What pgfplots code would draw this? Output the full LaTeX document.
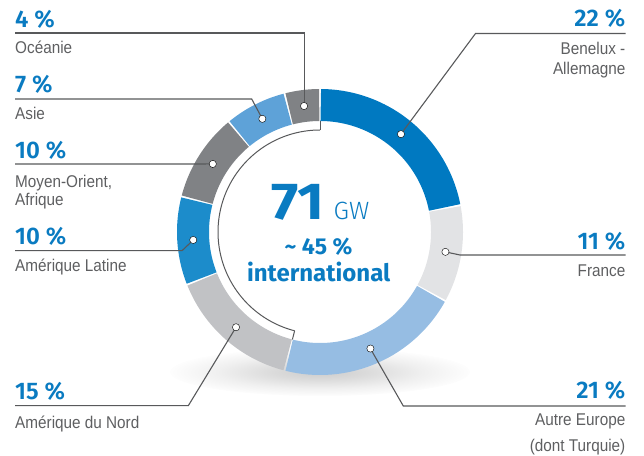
\documentclass[border=0pt]{standalone}
\usepackage{pgfplots}
\pgfplotsset{compat=1.18}
\usepackage{pgfplotstable}
\usepackage{fontspec}
\setmainfont{Liberation Sans}
\newfontfamily\labelfont{Liberation Sans}[FakeStretch=0.9]
\newfontfamily\numfont{Fira Sans}[UprightFont={* SemiBold}, BoldFont={* Bold}]
\newfontfamily\bignumfont{Fira Sans}[UprightFont={* Bold}]
\newfontfamily\hugefont{Fira Sans}[UprightFont={* Bold}, FakeStretch=1.12]
\newfontfamily\lightfont{Fira Sans}[UprightFont={* Light}]

\definecolor{seg0}{HTML}{0079C1}
\definecolor{seg1}{HTML}{E2E3E5}
\definecolor{seg2}{HTML}{96BDE3}
\definecolor{seg3}{HTML}{C1C2C5}
\definecolor{seg4}{HTML}{1C8CCB}
\definecolor{seg5}{HTML}{808285}
\definecolor{seg6}{HTML}{5EA2D8}
\definecolor{seg7}{HTML}{808285}
\definecolor{pctblue}{HTML}{0A7BC1}
\definecolor{labgray}{HTML}{5E5F61}
\definecolor{linegray}{HTML}{58595B}

\pgfdeclareradialshading{shadow}{\pgfpoint{0bp}{0bp}}{color(0bp)=(black!20); color(8bp)=(black!14); color(17bp)=(black!6); color(26bp)=(white); color(50bp)=(white)}

% share of capacity (%), clockwise from 12 o'clock
\pgfplotstableread{
region value
Benelux 22
France 11
AutreEurope 21
AmeriqueNord 15
AmeriqueLatine 10
MoyenOrient 10
Asie 7
Oceanie 4
}\shares
\pgfplotstablecreatecol[create col/expr accum={\pgfmathaccuma + \thisrow{value}}{0}]{cum}\shares
\pgfplotstablecreatecol[create col/expr={(\thisrow{cum}-\thisrow{value}/2)*3.6}]{mid}\shares

\newcommand{\pct}[1]{\numfont\fontsize{24bp}{24bp}\selectfont #1}
\newcommand{\lab}{\labelfont\fontsize{17bp}{17bp}\selectfont}

\begin{document}
\begin{tikzpicture}
\begin{axis}[name=ax, scale only axis, width=644bp, height=456bp,
  xmin=0, xmax=644, ymin=0, ymax=456, hide axis, clip=false]
\coordinate (ll) at (rel axis cs:0,0);
\coordinate (ur) at (rel axis cs:1,1);

% shadow under the ring
\shade[shading=shadow] (axis cs:320,84) ellipse [x radius=150bp, y radius=24bp];

% ring segments
\pgfplotsinvokeforeach{0,...,7}{%
  \pgfplotstablegetelem{#1}{cum}\of\shares
  \pgfmathsetmacro\segB{\pgfplotsretval*3.6-0.35}%
  \pgfplotstablegetelem{#1}{value}\of\shares
  \pgfmathsetmacro\segA{\segB+0.7-\pgfplotsretval*3.6}%
  \edef\doplot{\noexpand\addplot[draw=seg#1, line width=32bp, domain=\segA:\segB, samples=60, no markers, forget plot] ({320+127*sin(x)},{224+127*cos(x)});}%
  \doplot
}

% thin arc marking the international share
\pgfplotstablegetelem{2}{cum}\of\shares
\pgfmathsetmacro\intA{\pgfplotsretval*3.6}
\edef\doplot{\noexpand\addplot[draw=linegray, line width=1bp, domain=\intA:360, samples=120, forget plot] ({320+102*sin(x)},{224+102*cos(x)});}\doplot
\edef\doplot{\noexpand\addplot[draw=linegray, line width=1bp, domain=102:111, samples=2, forget plot] ({320+x*sin(\intA)},{224+x*cos(\intA)});}\doplot
\addplot[draw=linegray, line width=1bp, forget plot] coordinates {(320,326) (320,335)};

% callout lines
\addplot[draw=linegray, line width=1.1bp] coordinates {(625.5,422.5) (475.5,422.5) (400.9,321.9)};
\addplot[draw=linegray, line width=1.1bp] coordinates {(625.5,201) (460,201) (445.4,204.1)};
\addplot[draw=linegray, line width=1.1bp] coordinates {(625.5,50) (403.3,50) (370.4,107.4)};
\addplot[draw=linegray, line width=1.1bp] coordinates {(15,50.3) (188.3,50.3) (236.0,128.7)};
\addplot[draw=linegray, line width=1.1bp] coordinates {(15,205.3) (182,205.3) (193.3,216)};
\addplot[draw=linegray, line width=1.1bp] coordinates {(15,292) (200,292) (212.8,292.1)};
\addplot[draw=linegray, line width=1.1bp] coordinates {(15,357) (251.7,357) (262.3,337.2)};
\addplot[draw=linegray, line width=1.1bp] coordinates {(15,423) (304.1,423) (304.1,350)};

% white dots
\addplot[only marks, mark=*, mark size=3.6bp, mark options={fill=white, draw=none}, forget plot]
  table[x expr={320+127*sin(\thisrow{mid})}, y expr={224+127*cos(\thisrow{mid})}]{\shares};

% left labels
\node[anchor=base west, inner sep=0, text=pctblue] at (axis cs:15,428.7) {\pct{4 \%}};
\node[anchor=base west, inner sep=0, text=labgray] at (axis cs:15,402) {\lab Océanie};
\node[anchor=base west, inner sep=0, text=pctblue] at (axis cs:15,363.7) {\pct{7 \%}};
\node[anchor=base west, inner sep=0, text=labgray] at (axis cs:15,336.5) {\lab Asie};
\node[anchor=base west, inner sep=0, text=pctblue] at (axis cs:15,297.7) {\pct{10 \%}};
\node[anchor=base west, inner sep=0, text=labgray] at (axis cs:15,268.5) {\lab Moyen-Orient,};
\node[anchor=base west, inner sep=0, text=labgray] at (axis cs:15,250) {\lab Afrique};
\node[anchor=base west, inner sep=0, text=pctblue] at (axis cs:15,211) {\pct{10 \%}};
\node[anchor=base west, inner sep=0, text=labgray] at (axis cs:15,184.5) {\lab Amérique Latine};
\node[anchor=base west, inner sep=0, text=pctblue] at (axis cs:15,56) {\pct{15 \%}};
\node[anchor=base west, inner sep=0, text=labgray] at (axis cs:15,28) {\lab Amérique du Nord};

% right labels
\node[anchor=base east, inner sep=0, text=pctblue] at (axis cs:625.5,429.3) {\pct{22 \%}};
\node[anchor=base east, inner sep=0, text=labgray] at (axis cs:625.5,401) {\lab Benelux -};
\node[anchor=base east, inner sep=0, text=labgray] at (axis cs:625.5,381.5) {\lab Allemagne};
\node[anchor=base east, inner sep=0, text=pctblue] at (axis cs:625.5,206.7) {\pct{11 \%}};
\node[anchor=base east, inner sep=0, text=labgray] at (axis cs:625.5,179.3) {\lab France};
\node[anchor=base east, inner sep=0, text=pctblue] at (axis cs:625.5,57.7) {\pct{21 \%}};
\node[anchor=base east, inner sep=0, text=labgray] at (axis cs:625.5,31) {\lab Autre Europe};
\node[anchor=base east, inner sep=0, text=labgray] at (axis cs:625.5,5) {\lab (dont Turquie)};

% centre text
\node[anchor=base east, inner sep=0, text=pctblue] at (axis cs:325,236.7) {\hugefont\fontsize{52bp}{52bp}\selectfont 71};
\node[anchor=base west, inner sep=0, text=pctblue] at (axis cs:333.5,236.7) {\lightfont\fontsize{25bp}{25bp}\selectfont GW};
\node[anchor=base, inner sep=0, text=pctblue] at (axis cs:318.5,201) {\bignumfont\fontsize{23bp}{23bp}\selectfont \textasciitilde\ 45 \%};
\node[anchor=base, inner sep=0, text=pctblue] at (axis cs:318.7,174.5) {\bignumfont\fontsize{24bp}{24bp}\selectfont international};
\end{axis}
\pgfresetboundingbox
\path[use as bounding box] (ll) rectangle (ur);
\end{tikzpicture}
\end{document}
